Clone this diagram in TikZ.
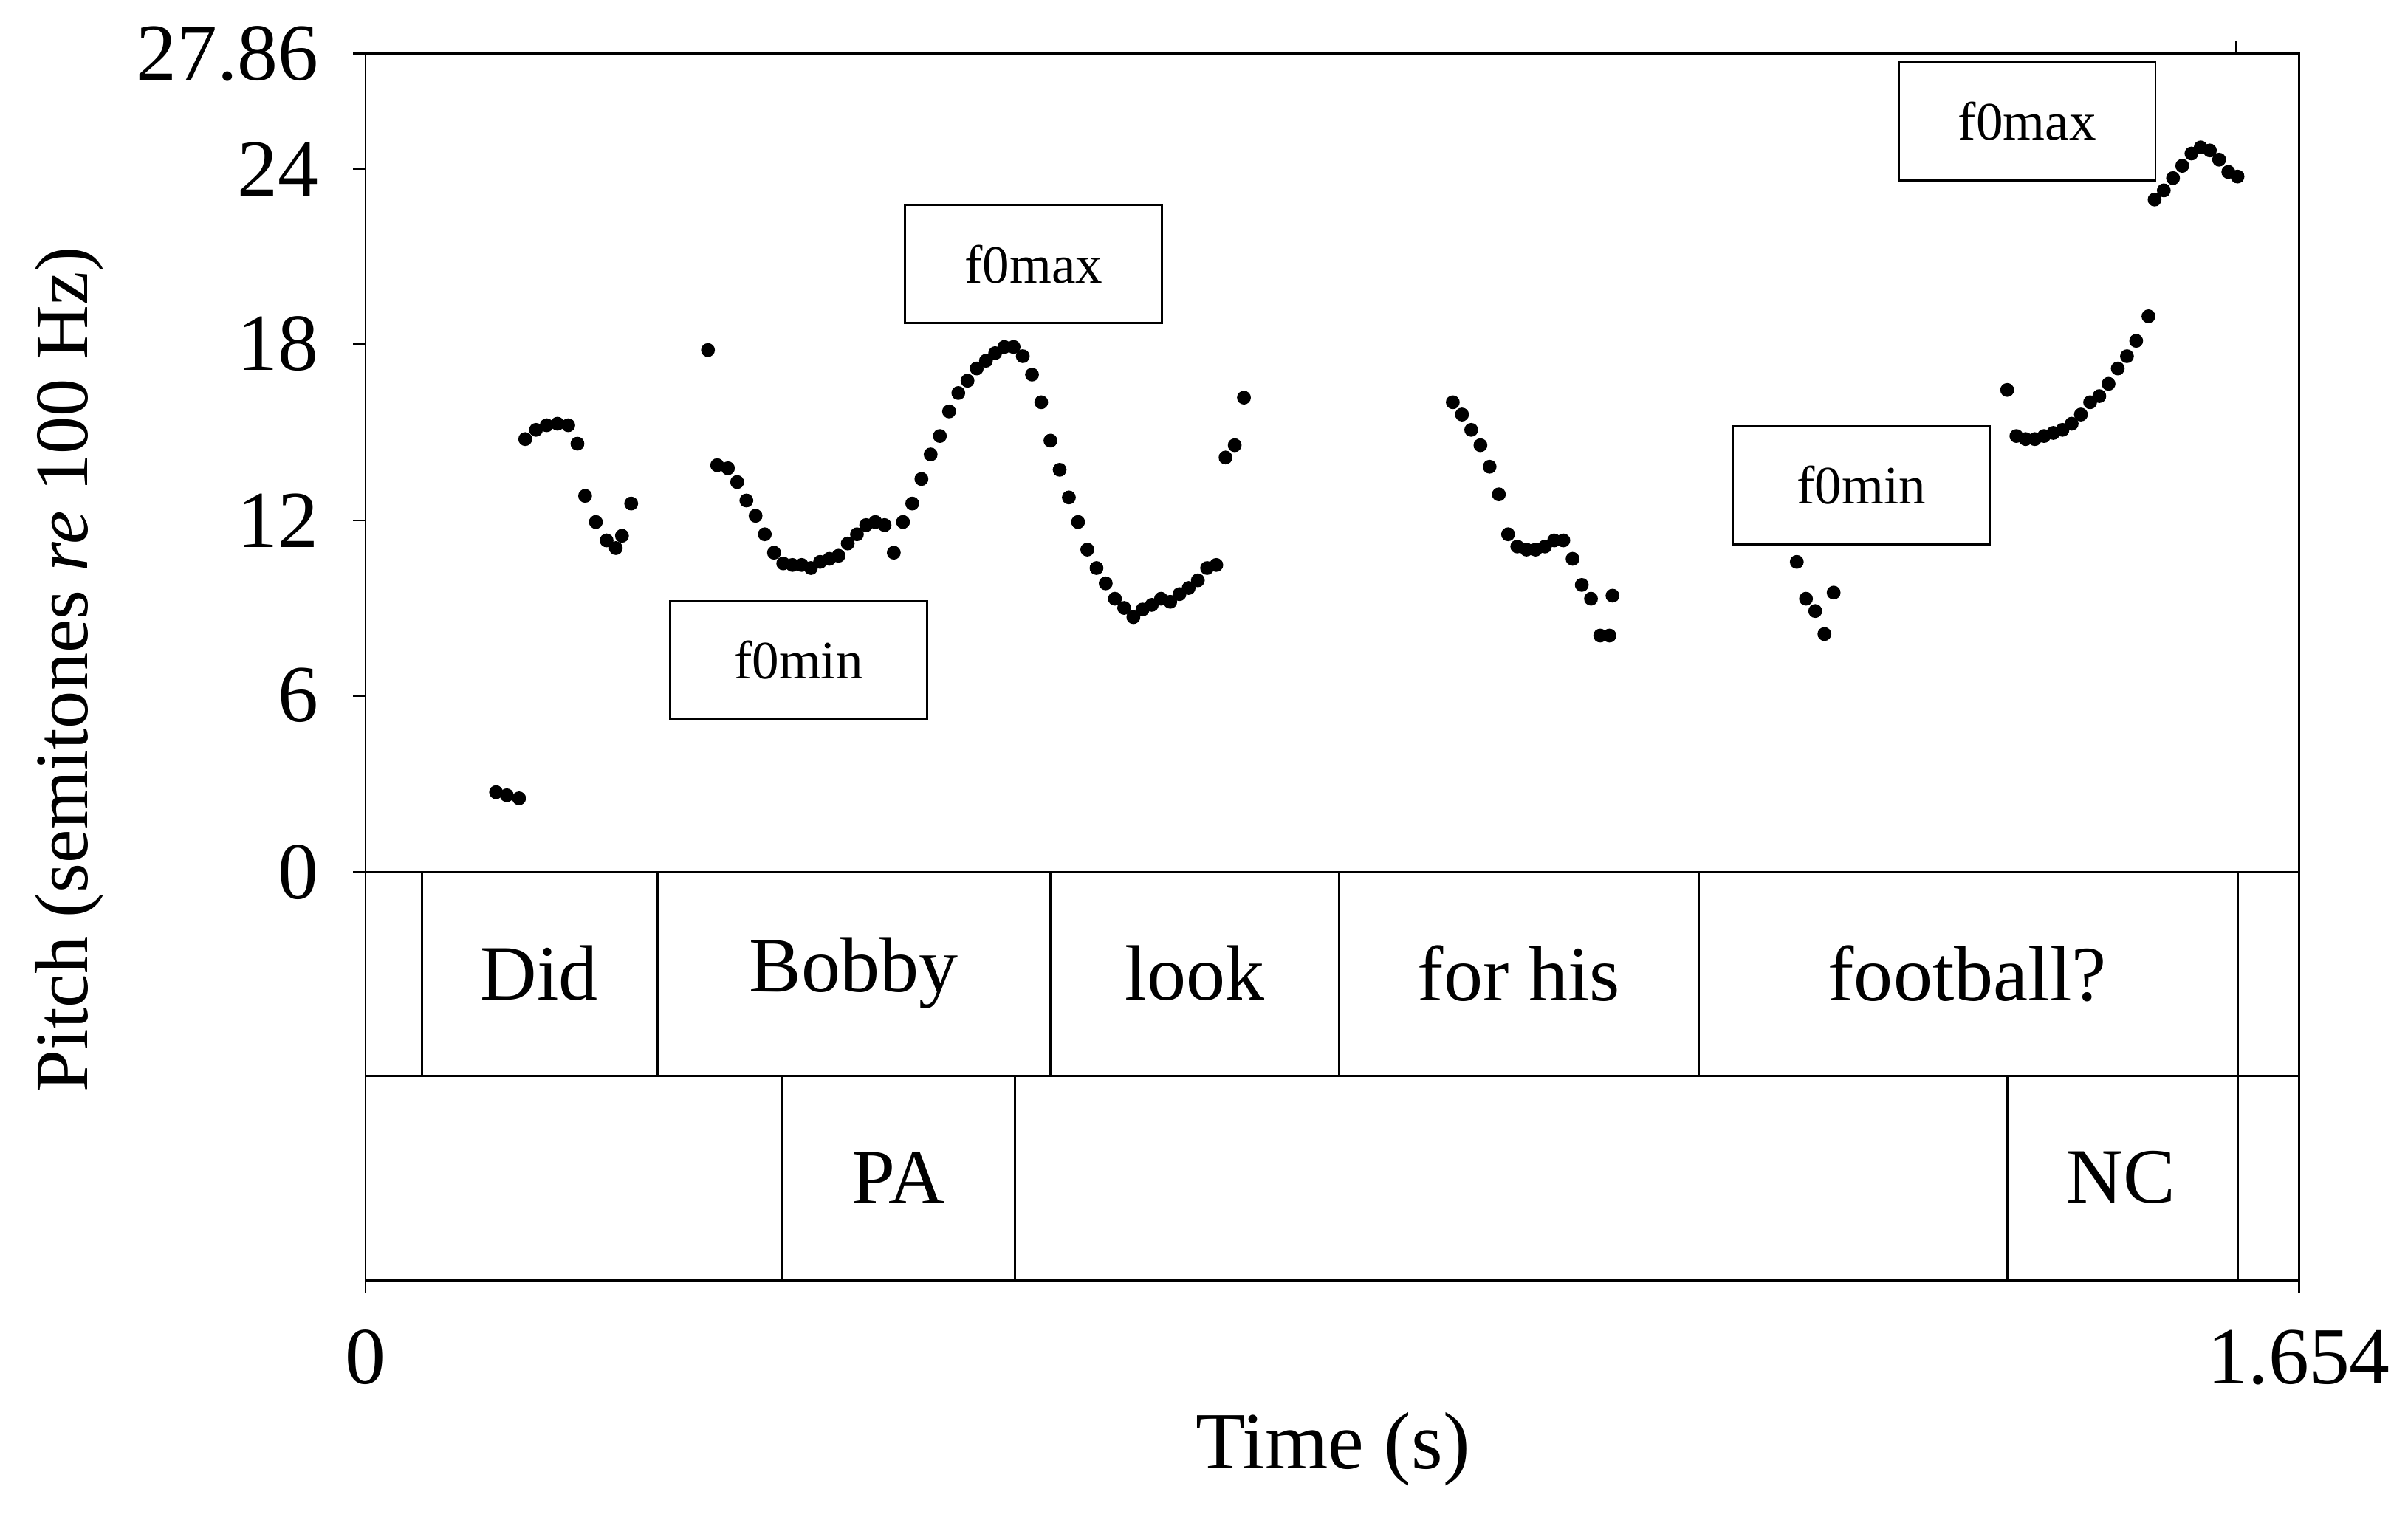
\documentclass[tikz,border=0pt]{standalone}
\usepackage{fontspec}
\setmainfont{Liberation Serif}
\usetikzlibrary{positioning}
\begin{document}
\begin{tikzpicture}[x=0.01cm,y=-0.01cm]
\tikzset{
  tick/.style = {font=\fontsize{15}{15}\selectfont},
  word/.style = {font=\fontsize{14.5}{15}\selectfont},
  markbox/.style = {draw, thin, minimum width=1.67cm, minimum height=0.77cm, font=\fontsize{10}{10}\selectfont},
  pt/.style = {fill=black},
}
\useasboundingbox (0,0) rectangle (1568,988);

% frame and tiers
\draw[thin] (238,35) rectangle (1497,834);
\draw[thin] (238,568) -- (1497,568);
\draw[thin] (238,701) -- (1497,701);

% y axis ticks
\foreach \v/\y in {27.86/35, 24/110, 18/224, 12/339, 6/453, 0/568}
  {
    \draw[thin] (230,\y) -- (238,\y);
    \node[tick, anchor=east] (ytick) at (220,\y) {\v};
  }
\draw[thin] (238,834) -- (238,842);
\draw[thin] (1497,834) -- (1497,842);
\draw[thin] (1456,27) -- (1456,35);
\node[tick] (xmin) at (238,884) {0};
\node[tick] (xmax) at (1497,884) {1.654};
\node[tick] (xlab) at (868,944) {Time (s)};
\node[tick, rotate=90, font=\fontsize{14}{14}\selectfont] (ylab) at (45,436) {Pitch (semitones \textit{re} 100 Hz)};

% word tier
\foreach \x in {275, 428, 684, 872, 1106, 1457}
  \draw[thin] (\x,568) -- (\x,701);
\foreach \x/\w in {351/Did, 556/Bobby, 778/look, 989/for his, 1281/football?}
  \node[word] (w) at (\x,634) {\w};

% accent tier
\foreach \x in {509, 661, 1307, 1457}
  \draw[thin] (\x,701) -- (\x,834);
\node[word] (pa) at (585,767) {PA};
\node[word] (nc) at (1381,767) {NC};

% annotation boxes
\node[markbox] (min1) at (520,430) {f0min};
\node[markbox] (max1) at (673,172) {f0max};
\node[markbox] (min2) at (1212,316) {f0min};
\node[markbox] (max2) at (1320,79) {f0max};

% pitch track
\foreach \x/\y in {
  323/516, 330/518, 338/520,
  342/286, 349/280, 356/277, 363/276, 370/277, 376/289, 381/323, 388/340, 395/352, 401/357, 405/349, 411/328,
  461/228, 467/303, 474/305, 480/314, 486/326, 492/336, 498/348, 504/360, 510/367, 516/368, 522/368, 528/370,
  534/366, 540/364, 546/362, 552/354, 558/348, 564/342, 570/340, 576/342, 582/360, 588/340, 594/328, 600/312,
  606/296, 612/284, 618/268, 624/256, 630/248, 636/240, 642/235, 648/230, 654/226, 660/226, 666/232, 672/244,
  678/262, 684/287, 690/306, 696/324, 702/340, 708/358, 714/370, 720/380, 726/390, 732/396, 738/402, 744/397,
  750/394, 756/390, 762/392, 768/387, 774/383, 780/378, 786/370, 792/368,
  798/298, 804/290, 810/259,
  946/262, 952/270, 958/280, 964/290, 970/304, 976/322, 982/348, 988/356, 994/358, 1000/358, 1006/356,
  1012/352, 1018/352, 1024/364, 1030/381, 1036/390, 1042/414, 1048/414, 1050/388,
  1170/366, 1176/390, 1182/398, 1188/413, 1194/386,
  1307/254, 1313/284, 1319/286, 1325/286, 1331/284, 1337/282, 1343/280, 1349/276, 1355/270, 1361/262,
  1367/258, 1373/250, 1379/240, 1385/232, 1391/222, 1399/206,
  1403/130, 1409/124, 1415/116, 1421/108, 1427/100, 1433/96, 1439/98, 1445/104, 1451/112, 1457/115}
  \fill[pt] (\x,\y) circle (0.045cm);
\end{tikzpicture}
\end{document}
